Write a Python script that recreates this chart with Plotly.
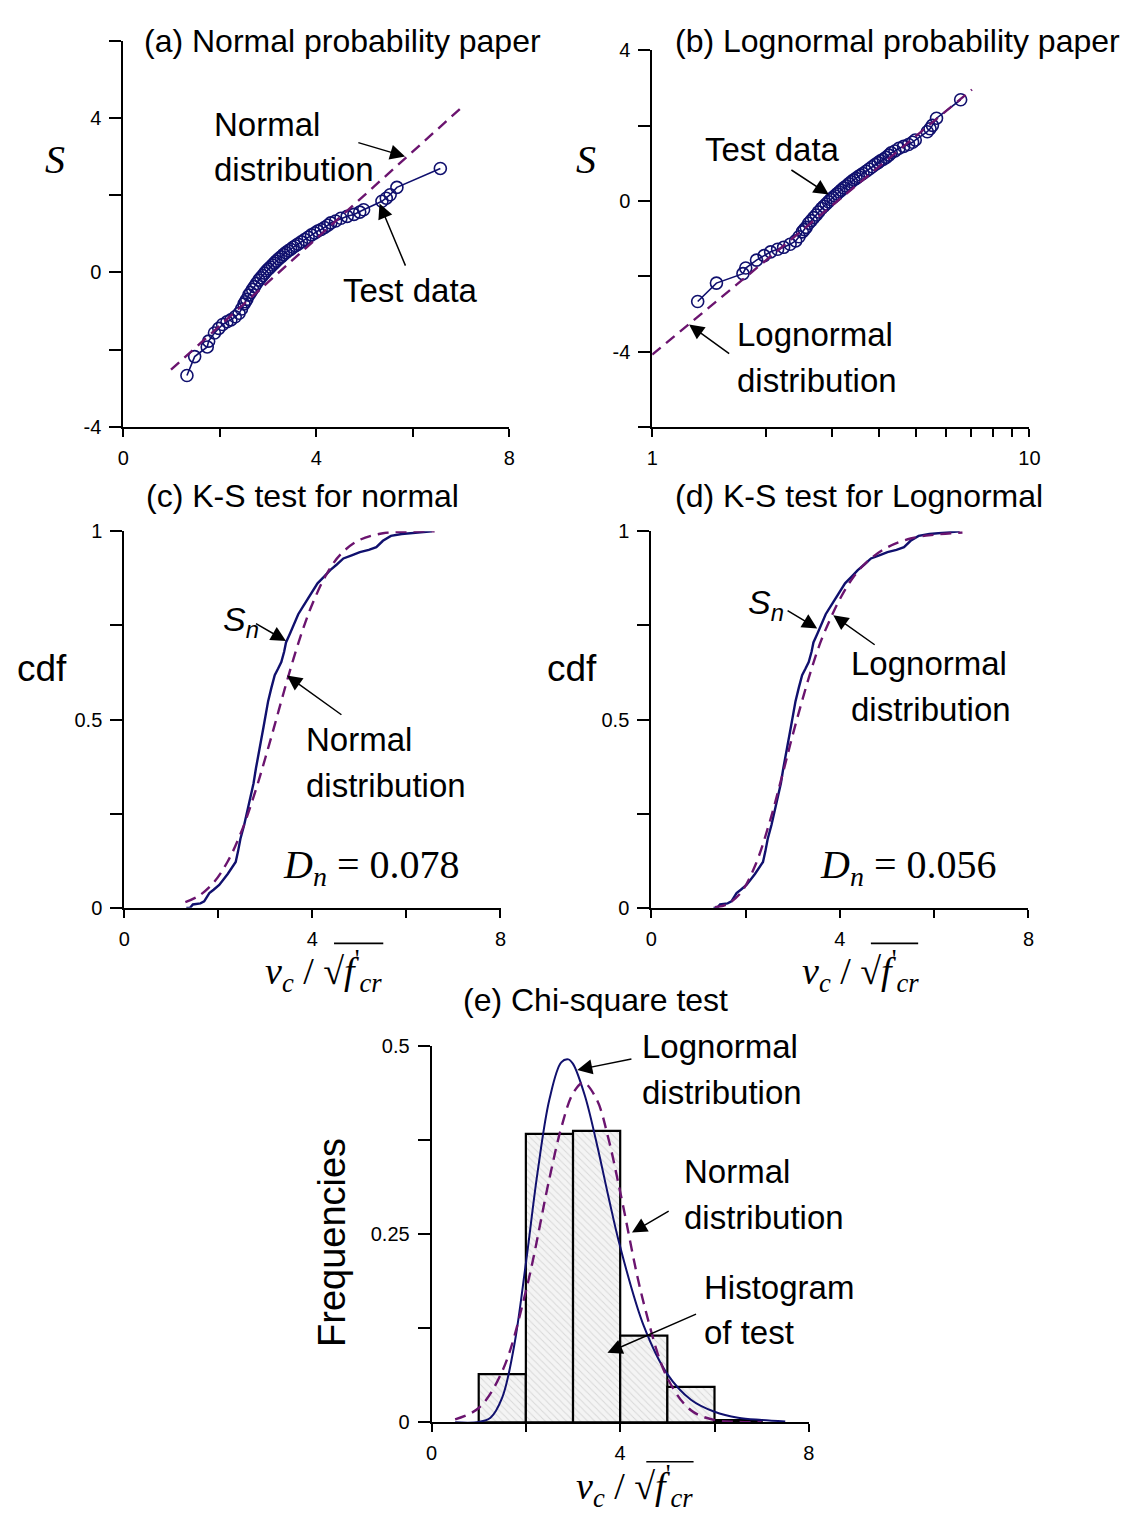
import plotly.graph_objects as go

W, H = 1138, 1522

# ---------------- data ----------------
# test data: value v_c/sqrt(f'cr) and standard normal variate S (panels a, b)
test_v = [1.32, 1.48, 1.74, 1.77, 1.89, 1.98, 2.06, 2.15, 2.23, 2.32, 2.40, 2.45, 2.50,
          2.53, 2.56, 2.60, 2.64, 2.68, 2.72, 2.76, 2.81, 2.85, 2.89, 2.93, 2.97, 3.01,
          3.05, 3.09, 3.13, 3.17, 3.22, 3.27, 3.32, 3.37, 3.42, 3.47, 3.52, 3.57, 3.62,
          3.69, 3.76, 3.83, 3.90, 3.97, 4.03, 4.10, 4.17, 4.24, 4.30, 4.40, 4.51, 4.64,
          4.78, 4.90, 4.98, 5.36, 5.45, 5.53, 5.67, 6.57]
test_s = [-2.67, -2.18, -1.93, -1.78, -1.57, -1.45, -1.35, -1.28, -1.23, -1.15, -1.06, -0.95,
          -0.82, -0.76, -0.70, -0.59, -0.52, -0.44, -0.37, -0.29, -0.20, -0.14, -0.08, -0.02,
          0.04, 0.09, 0.14, 0.19, 0.24, 0.29, 0.35, 0.40, 0.46, 0.51, 0.56, 0.60, 0.65, 0.69,
          0.73, 0.79, 0.85, 0.91, 0.97, 1.02, 1.07, 1.11, 1.16, 1.22, 1.28, 1.33, 1.40, 1.45,
          1.50, 1.56, 1.62, 1.84, 1.92, 2.01, 2.20, 2.69]

# fitted lines on probability papers (end points)
normal_line_v = [0.99, 7.03]
normal_line_s = [-2.52, 4.29]
lognormal_line_v = [1.0, 7.04]
lognormal_line_s = [-4.08, 2.96]

# empirical cdf S_n (panels c, d)
ecdf_v = [1.32, 1.40, 1.46, 1.62, 1.70, 1.81, 1.90, 2.02, 2.20, 2.37, 2.42, 2.47, 2.55, 2.61,
          2.68, 2.75, 2.80, 2.85, 2.91, 2.96, 3.01, 3.06, 3.13, 3.20, 3.27, 3.34, 3.40, 3.44,
          3.53, 3.62, 3.70, 3.80, 3.90, 4.00, 4.11, 4.25, 4.38, 4.52, 4.66, 4.85, 5.01, 5.20,
          5.36, 5.50, 5.67, 5.90, 6.20, 6.54]
ecdf_p = [0.0, 0.0, 0.009, 0.012, 0.017, 0.039, 0.048, 0.061, 0.090, 0.122, 0.150, 0.183,
          0.220, 0.253, 0.290, 0.331, 0.370, 0.409, 0.445, 0.479, 0.515, 0.549, 0.585, 0.618,
          0.635, 0.653, 0.680, 0.705, 0.730, 0.758, 0.780, 0.800, 0.819, 0.840, 0.862, 0.880,
          0.897, 0.912, 0.928, 0.937, 0.945, 0.951, 0.958, 0.975, 0.988, 0.993, 0.996, 1.0]

# fitted cdf curves
normal_cdf_v = [1.3, 1.6, 1.9, 2.2, 2.5, 2.8, 3.0, 3.2, 3.4, 3.6, 3.8, 4.0, 4.3, 4.6, 5.0, 5.5, 6.0, 6.6]
normal_cdf_p = [0.015, 0.033, 0.067, 0.123, 0.205, 0.314, 0.398, 0.486, 0.576, 0.662, 0.740,
                0.807, 0.886, 0.939, 0.977, 0.995, 0.999, 1.0]
lognormal_cdf_v = [1.35, 1.6, 1.9, 2.2, 2.5, 2.8, 3.0, 3.2, 3.4, 3.6, 3.8, 4.0, 4.3, 4.6, 5.0, 5.5, 6.0, 6.6]
lognormal_cdf_p = [0.0015, 0.009, 0.040, 0.111, 0.223, 0.362, 0.459, 0.550, 0.635, 0.709, 0.768,
                   0.820, 0.881, 0.922, 0.957, 0.981, 0.991, 0.997]

# histogram (panel e)
hist_left = [1, 2, 3, 4, 5, 6]
hist_freq = [0.064, 0.383, 0.387, 0.115, 0.047, 0.003]

normal_pdf_v = [0.5, 1.0, 1.5, 2.0, 2.5, 2.75, 3.0, 3.22, 3.5, 3.75, 4.0, 4.5, 5.0, 5.5, 6.0, 6.5, 7.0]
normal_pdf_f = [0.004, 0.019, 0.068, 0.174, 0.324, 0.391, 0.437, 0.451, 0.429, 0.377, 0.306,
                0.158, 0.059, 0.016, 0.003, 0.0005, 0.0]
lognormal_pdf_v = [0.5, 1.0, 1.25, 1.5, 1.75, 2.0, 2.25, 2.5, 2.75, 2.9, 3.0, 3.25, 3.5, 3.75,
                   4.0, 4.5, 5.0, 5.5, 6.0, 6.5, 7.0, 7.5]
lognormal_pdf_f = [0.0, 0.0004, 0.006, 0.033, 0.101, 0.211, 0.333, 0.429, 0.478, 0.482, 0.476,
                   0.434, 0.371, 0.300, 0.233, 0.128, 0.064, 0.030, 0.014, 0.006, 0.003, 0.001]

# ---------------- styles ----------------
NAVY = "#10106e"
PURPLE = "#6b146f"
LABEL = "Liberation Sans, Arial, sans-serif"
SANS = "Liberation Sans, Arial, sans-serif"
SERIF = "Liberation Serif, Times New Roman, serif"
DASH = "11px,7px"


def pxx(x):
    return x / W


def pxy(y):
    return 1 - y / H


fig = go.Figure()

marker_style = dict(symbol="circle-open", size=12, color=NAVY, line=dict(width=1.6, color=NAVY))

# ---- (a) normal probability paper
fig.add_trace(go.Scatter(x=test_v, y=test_s, mode="lines+markers", xaxis="x", yaxis="y",
                         line=dict(color=NAVY, width=1.6), marker=marker_style))
fig.add_trace(go.Scatter(x=normal_line_v, y=normal_line_s, mode="lines", xaxis="x", yaxis="y",
                         line=dict(color=PURPLE, width=2.4, dash=DASH)))

# ---- (b) lognormal probability paper
fig.add_trace(go.Scatter(x=test_v, y=test_s, mode="lines+markers", xaxis="x2", yaxis="y2",
                         line=dict(color=NAVY, width=1.6), marker=marker_style))
fig.add_trace(go.Scatter(x=lognormal_line_v, y=lognormal_line_s, mode="lines", xaxis="x2", yaxis="y2",
                         line=dict(color=PURPLE, width=2.4, dash=DASH)))

# ---- (c) K-S normal
fig.add_trace(go.Scatter(x=ecdf_v, y=ecdf_p, mode="lines", xaxis="x3", yaxis="y3",
                         line=dict(color=NAVY, width=2.4)))
fig.add_trace(go.Scatter(x=normal_cdf_v, y=normal_cdf_p, mode="lines", xaxis="x3", yaxis="y3",
                         line=dict(color=PURPLE, width=2.4, dash=DASH, shape="spline")))

# ---- (d) K-S lognormal
fig.add_trace(go.Scatter(x=ecdf_v, y=ecdf_p, mode="lines", xaxis="x4", yaxis="y4",
                         line=dict(color=NAVY, width=2.4)))
fig.add_trace(go.Scatter(x=lognormal_cdf_v, y=lognormal_cdf_p, mode="lines", xaxis="x4", yaxis="y4",
                         line=dict(color=PURPLE, width=2.4, dash=DASH, shape="spline")))

# ---- (e) chi-square
fig.add_trace(go.Bar(x=hist_left, y=hist_freq, width=1, offset=0, xaxis="x5", yaxis="y5",
                     marker=dict(color="#f2f2f2", line=dict(color="black", width=2.2),
                                 pattern=dict(shape="\\", fgcolor="#bdbdbd", bgcolor="#f4f4f4",
                                              size=5, solidity=0.2))))
fig.add_trace(go.Scatter(x=lognormal_pdf_v, y=lognormal_pdf_f, mode="lines", xaxis="x5", yaxis="y5",
                         line=dict(color=NAVY, width=2.0, shape="spline")))
fig.add_trace(go.Scatter(x=normal_pdf_v, y=normal_pdf_f, mode="lines", xaxis="x5", yaxis="y5",
                         line=dict(color=PURPLE, width=2.4, dash=DASH, shape="spline")))

# ---------------- axes ----------------
def ax(domain, **kw):
    d = dict(domain=domain, showline=True, linecolor="black", linewidth=1.8,
             ticks="outside", tickwidth=1.8, tickcolor="black", showgrid=False,
             zeroline=False, tickfont=dict(family=SANS, size=20, color="black"), fixedrange=True)
    d.update(kw)
    return d


lin8 = dict(range=[0, 8], tickvals=[0, 2, 4, 6, 8], ticktext=["0", "", "4", "", "8"],
            ticklen=8, ticklabelstandoff=4)

fig.update_layout(
    width=W, height=H, margin=dict(l=0, r=0, t=0, b=0),
    paper_bgcolor="white", plot_bgcolor="white", showlegend=False,
    xaxis=ax([pxx(119), pxx(511)], anchor="y", **lin8),
    yaxis=ax([pxy(422), pxy(30)], anchor="x", range=[-4, 6], tickvals=[-4, -2, 0, 2, 4, 6],
             ticktext=["-4", "", "0", "", "4", ""], ticklen=12, ticklabelstandoff=4),
    xaxis2=ax([pxx(656), pxx(1039)], anchor="y2", type="log", range=[0, 1],
              tickvals=[1, 2, 3, 4, 5, 6, 7, 8, 9, 10],
              ticktext=["1", "", "", "", "", "", "", "", "", "10"], ticklen=8, ticklabelstandoff=4),
    yaxis2=ax([pxy(422), pxy(40)], anchor="x2", range=[-6, 4], tickvals=[-6, -4, -2, 0, 2, 4],
              ticktext=["", "-4", "", "0", "", "4"], ticklen=12, ticklabelstandoff=4),
    xaxis3=ax([pxx(120), pxx(502)], anchor="y3", **lin8),
    yaxis3=ax([pxy(910), pxy(528)], anchor="x3", range=[0, 1], tickvals=[0, 0.25, 0.5, 0.75, 1],
              ticktext=["0", "", "0.5", "", "1"], ticklen=12, ticklabelstandoff=4),
    xaxis4=ax([pxx(655), pxx(1038)], anchor="y4", **lin8),
    yaxis4=ax([pxy(910), pxy(528)], anchor="x4", range=[0, 1], tickvals=[0, 0.25, 0.5, 0.75, 1],
              ticktext=["0", "", "0.5", "", "1"], ticklen=12, ticklabelstandoff=4),
    xaxis5=ax([pxx(432), pxx(815)], anchor="y5", **lin8),
    yaxis5=ax([pxy(1432), pxy(1050)], anchor="x5", range=[0, 0.5],
              tickvals=[0, 0.125, 0.25, 0.375, 0.5], ticktext=["0", "", "0.25", "", "0.5"],
              ticklen=12, ticklabelstandoff=4),
)

# ---------------- texts ----------------
anns = []


def text(x, y, s, size=33, family=LABEL, xanchor="left", yanchor="middle", angle=0):
    anns.append(dict(x=pxx(x), y=pxy(y), xref="paper", yref="paper", text=s, showarrow=False,
                     xanchor=xanchor, yanchor=yanchor, textangle=angle,
                     font=dict(family=family, size=size, color="black")))


def arrow(xr, yr, head, tail):
    anns.append(dict(x=head[0], y=head[1], ax=tail[0], ay=tail[1], xref=xr, yref=yr,
                     axref=xr, ayref=yr, text="", showarrow=True, arrowhead=2,
                     arrowsize=2.0, arrowwidth=1.5, arrowcolor="black"))


# titles
text(342, 30, "(a) Normal probability paper", size=32, xanchor="center")
text(905, 30, "(b) Lognormal probability paper", size=32, xanchor="center")
text(301, 492, "(c) K-S test for normal", size=32, xanchor="center")
text(866, 492, "(d) K-S test for Lognormal", size=32, xanchor="center")
text(598, 1004, "(e) Chi-square test", size=32, xanchor="center")

# axis titles
text(50, 151, "<i>S</i>", size=40, family=SERIF, xanchor="center")
text(589, 151, "<i>S</i>", size=40, family=SERIF, xanchor="center")
text(37, 667, "cdf", size=37, family=SANS, xanchor="center")
text(575, 667, "cdf", size=37, family=SANS, xanchor="center")
text(331, 1250, "Frequencies", size=38, family=SANS, xanchor="center", angle=-90)

xt = "<i>v<sub>c</sub></i> / √<i>f</i><sup>'</sup><i><sub>cr</sub></i>"
text(322, 974, xt, size=38, family=SERIF, xanchor="center")
text(867, 974, xt, size=38, family=SERIF, xanchor="center")
text(638, 1497, xt, size=38, family=SERIF, xanchor="center")

# (a)
text(209, 115, "Normal")
text(209, 161, "distribution")
text(340, 284, "Test data")
arrow("x", "y", (5.84, 3.0), (4.84, 3.37))
arrow("x", "y", (5.31, 1.78), (5.86, 0.135))

# (b)
text(708, 141, "Test data")
text(740, 328, "Lognormal")
text(740, 375, "distribution")
arrow("x2", "y2", (0.468, 0.17), (0.365, 0.85))
arrow("x2", "y2", (0.0977, -3.28), (0.208, -4.08))

# (c)
text(239, 619, "<i>S<sub>n</sub></i>", size=34, family=SANS, xanchor="center")
text(303, 739, "Normal")
text(303, 786, "distribution")
text(279, 869, "<i>D<sub>n</sub></i> = 0.078", size=40, family=SERIF)
arrow("x3", "y3", (3.44, 0.709), (2.77, 0.757))
arrow("x3", "y3", (3.46, 0.617), (4.65, 0.51))

# (d)
text(772, 602, "<i>S<sub>n</sub></i>", size=34, family=SANS, xanchor="center")
text(856, 662, "Lognormal")
text(856, 709, "distribution")
text(824, 869, "<i>D<sub>n</sub></i> = 0.056", size=40, family=SERIF)
arrow("x4", "y4", (3.52, 0.742), (2.86, 0.792))
arrow("x4", "y4", (3.86, 0.777), (4.77, 0.696))

# (e)
text(644, 1051, "Lognormal")
text(644, 1097, "distribution")
text(686, 1178, "Normal")
text(686, 1224, "distribution")
text(707, 1295, "Histogram")
text(707, 1341, "of test")
arrow("x5", "y5", (3.09, 0.468), (4.27, 0.483))
arrow("x5", "y5", (4.25, 0.252), (5.06, 0.2816))
arrow("x5", "y5", (3.73, 0.0923), (5.64, 0.1445))

fig.update_layout(annotations=anns)

# radical vinculum over f'cr
shapes = []
for x0, x1, y in [(333, 383, 946), (878, 926, 946), (650, 698, 1472)]:
    shapes.append(dict(type="line", xref="paper", yref="paper", x0=pxx(x0), x1=pxx(x1),
                       y0=pxy(y), y1=pxy(y), line=dict(color="black", width=1.6)))
fig.update_layout(shapes=shapes)

fig.write_html("out.html")
